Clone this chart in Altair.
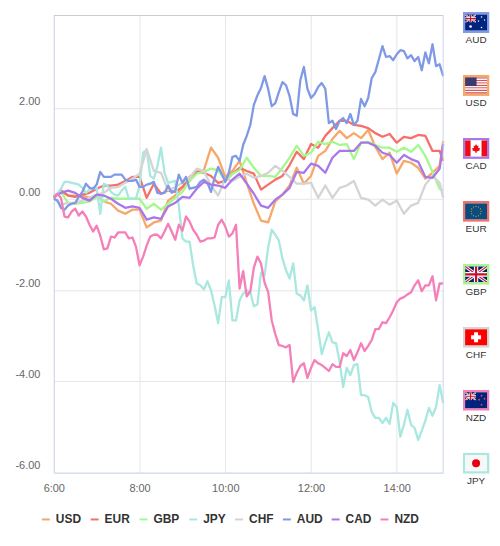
import base64
import math
import altair as alt
import pandas as pd

SERIES = ["USD", "EUR", "GBP", "JPY", "CHF", "AUD", "CAD", "NZD"]
COLORS = ["#f7a868", "#f5706a", "#a3f98b", "#a8e8df", "#d4d4d4", "#7f99e6", "#a978e8", "#f57fb8"]
FLAG_ORDER = ["AUD", "USD", "CAD", "EUR", "GBP", "CHF", "NZD", "JPY"]

usd = [.03,.19,.08,.08,.08,.03,.08,-.05,-.10,-.25,-.32,-.23,-.23,-.62,-.51,-.47,-.03,.08,.25,.40,.62,.64,1.13,.91,.49,.62,.84,.36,-.10,-.47,-.51,-.05,.10,.30,.69,.34,.51,.95,1.06,1.32,1.50,1.34,1.45,1.34,1.52,1.15,.88,1.02,.56,.84,.80,.69,.45,.58,.73,1.28]
eur = [.03,.19,.08,.05,.10,.14,.23,.30,.30,.32,.40,.49,.49,.03,.34,.12,.19,.16,.27,.49,.60,.58,.51,.36,.40,.56,.69,.62,.56,.21,.32,.43,.51,.75,1.04,.88,1.21,1.13,1.39,1.56,1.72,1.72,1.63,1.61,1.56,1.45,1.37,1.43,1.24,1.37,1.34,1.41,1.39,1.06,1.06,.84]
gbp = [.08,.16,-.08,-.10,-.08,-.05,.05,-.05,.03,.01,.01,.01,.01,-.21,-.10,-.23,-.10,.03,.16,.40,.56,.60,.67,.64,.40,.56,.64,.91,.69,.51,.51,.49,.69,.91,1.17,.95,1.02,1.26,1.21,1.26,1.19,1.21,.88,1.24,1.26,1.19,1.13,1.13,1.04,1.13,1.04,1.19,.95,.60,.23,.19]
chf = [.03,-.12,-.08,-.08,-.03,.03,.10,.14,.25,.27,.36,.45,.56,1.10,.62,.58,.19,.27,.36,.47,.67,.62,.30,.08,.45,.40,.49,.56,.47,.51,.58,.73,.62,.49,.34,.34,.36,.03,.30,.03,.25,.30,.40,.03,-.01,-.14,-.01,-.12,-.03,-.32,-.14,-.08,.32,.51,.36,.03]
cad = [.05,.14,.19,.14,.03,-.03,.10,.08,.01,-.10,-.19,-.16,-.19,-.45,-.40,-.43,-.16,-.08,.05,.03,.23,.38,.32,.30,.25,.43,.56,.34,.12,-.14,-.19,-.01,.10,.25,.60,.58,.78,.73,.58,.91,1.06,1.06,1.06,1.24,1.24,1.17,1.02,.97,.80,.97,.88,.82,.49,.47,.67,1.21]

aud = [.01,-.03,-.19,-.23,-.14,-.10,-.08,.05,.16,.34,.25,.23,.32,.60,.49,.49,.49,.54,.54,.54,.43,.40,.40,.43,.27,.27,.32,.34,.38,.14,.12,.14,.30,.14,.19,.54,.36,.49,.23,.25,.27,.38,.43,.36,.16,.47,.71,.56,.38,.58,.93,.95,.84,1.19,1.39,1.63,2.07,2.28,2.44,2.70,2.42,2.04,2.11,2.35,2.57,2.50,2.26,1.87,1.83,2.61,2.90,2.42,2.22,2.31,2.46,2.55,2.42,1.67,1.72,1.54,1.72,1.78,1.67,1.87,1.63,1.72,2.20,2.04,2.22,2.66,2.79,3.07,3.36,3.12,3.14,3.05,3.18,3.27,3.25,3.09,3.16,3.03,3.12,2.83,3.22,2.98,3.40,2.92,2.96,2.70]
nzd = [.05,.12,.03,-.38,-.40,-.27,-.21,-.36,-.27,-.38,-.56,-.71,-.58,-.80,-1.10,-1.08,-.82,-.84,-.73,-.73,-.73,-.86,-.84,-1.04,-1.45,-1.26,-1.02,-.82,-.78,-.78,-.86,-.71,-.54,-.71,-.89,-.56,-.69,-.38,-.49,-.67,-.78,-.93,-.91,-.86,-.86,-.84,-.56,-.45,-.60,-.82,-.75,-.56,-1.96,-1.58,-2.13,-2.02,-1.50,-1.26,-1.41,-1.83,-2.04,-2.66,-2.96,-3.20,-3.22,-3.25,-3.20,-4.01,-3.81,-3.66,-3.60,-3.92,-3.70,-3.53,-3.60,-3.64,-3.70,-3.77,-3.62,-3.68,-3.68,-3.38,-3.44,-3.31,-3.53,-3.36,-3.16,-3.33,-3.22,-3.09,-2.85,-2.85,-2.70,-2.72,-2.59,-2.44,-2.26,-2.18,-2.15,-2.09,-2.04,-1.89,-1.78,-2.02,-1.89,-1.89,-1.69,-2.22,-1.85,-1.85]
jpy = [.05,.12,.23,.38,.38,.36,.34,.32,.25,.14,.21,.23,.25,-.32,.34,.30,.16,.10,.08,.19,.27,.01,.01,.01,.30,1.02,1.08,.51,.45,.73,1.13,.58,.36,.38,.40,-.14,-.86,-.93,-.93,-1.45,-1.85,-1.89,-1.98,-1.80,-2.00,-2.33,-2.72,-2.15,-2.15,-1.78,-2.66,-2.66,-2.22,-2.07,-2.00,-2.04,-2.35,-2.31,-1.61,-1.67,-1.06,-.67,-.78,-.91,-1.30,-1.56,-1.74,-1.41,-2.07,-2.11,-2.22,-1.89,-2.44,-2.37,-2.87,-3.40,-3.14,-2.92,-3.14,-3.16,-3.57,-4.12,-3.70,-3.86,-3.64,-3.62,-4.30,-4.30,-4.34,-4.67,-4.80,-4.80,-4.91,-4.80,-4.93,-4.47,-4.56,-5.21,-4.95,-4.62,-4.95,-5.02,-5.28,-5.08,-4.86,-4.58,-4.75,-4.56,-4.08,-4.47]

VALUES = dict(USD=usd, EUR=eur, GBP=gbp, JPY=jpy, CHF=chf, AUD=aud, CAD=cad, NZD=nzd)

X_TICK_HOURS = [6, 8, 10, 12, 14]
Y_TICKS = [-6, -4, -2, 0, 2]
Y_TOP = 4.03
DAY = "2024-03-04"


def times_for(n):
    start = pd.Timestamp(f"{DAY} 06:00")
    if n > 60:
        return [start + pd.Timedelta(minutes=5 * i) for i in range(n)]
    t = [start + pd.Timedelta(minutes=10 * i) for i in range(n - 1)]
    return t + [start + pd.Timedelta(minutes=545)]


rows = []
for s in SERIES:
    vals = VALUES[s]
    for t, v in zip(times_for(len(vals)), vals):
        rows.append({"t": t.strftime("%Y-%m-%dT%H:%M:%S"), "v": v, "s": s})
df = pd.DataFrame(rows)

T0 = f"{DAY}T06:00:00"
T1 = f"{DAY}T15:05:00"
x_scale = alt.Scale(domain=[T0, T1], nice=False)
y_scale = alt.Scale(domain=[-6, Y_TOP], nice=False, zero=False)

lines = (
    alt.Chart(df)
    .mark_line(strokeWidth=2.3, interpolate="linear", strokeJoin="round")
    .encode(
        x=alt.X(
            "t:T",
            scale=x_scale,
            title=None,
            axis=alt.Axis(
                values=[alt.DateTime(year=2024, month=3, date=4, hours=h) for h in X_TICK_HOURS],
                format="%-H:%M",
                ticks=False,
                labelColor="#666666",
                labelFontSize=11,
                labelFont="Liberation Sans",
                labelPadding=10,
                labelFlush=False,
                labelOverlap=False,
                domainColor="#ccd6eb",
                domainWidth=1,
                gridColor="#e6e6e6",
                gridWidth=1,
            ),
        ),
        y=alt.Y(
            "v:Q",
            scale=y_scale,
            title=None,
            axis=alt.Axis(
                values=Y_TICKS,
                labelExpr="replace(format(datum.value, '.2f'), '\u2212', '-')",
                ticks=False,
                labelColor="#666666",
                labelFontSize=11,
                labelFont="Liberation Sans",
                labelPadding=14,
                labelOffset=-7,
                labelFlush=False,
                labelOverlap=False,
                domainColor="#ccd6eb",
                domainWidth=1,
                gridColor="#e6e6e6",
                gridWidth=1,
            ),
        ),
        color=alt.Color(
            "s:N",
            sort=SERIES,
            scale=alt.Scale(domain=SERIES, range=COLORS),
            legend=alt.Legend(
                title=None,
                orient="none",
                legendX=-14,
                legendY=500,
                direction="horizontal",
                columns=8,
                symbolType="stroke",
                symbolSize=64,
                symbolStrokeWidth=2,
                labelFont="Liberation Sans",
                labelFontSize=12,
                labelFontWeight="bold",
                labelColor="#333333",
                labelOffset=4,
                columnPadding=5,
                padding=0,
            ),
        ),
        detail="s:N",
        order=alt.Order("t:T"),
    )
)

top_rule = (
    alt.Chart(pd.DataFrame({"y": [Y_TOP]}))
    .mark_rule(color="#cccccc", strokeWidth=1)
    .encode(y=alt.Y("y:Q", scale=y_scale))
)
right_rule = (
    alt.Chart(pd.DataFrame({"x": [T1]}))
    .mark_rule(color="#ccd6eb", strokeWidth=1)
    .encode(x=alt.X("x:T", scale=x_scale))
)

main = alt.layer(lines, top_rule, right_rule).properties(width=391, height=459)


# --- flag badges ---------------------------------------------------------
def union(x, y, w, h):
    return (
        f'<svg x="{x}" y="{y}" width="{w}" height="{h}" viewBox="0 0 60 40" preserveAspectRatio="none">'
        '<rect width="60" height="40" fill="#012169"/>'
        '<path d="M0,0 L60,40 M60,0 L0,40" stroke="#fff" stroke-width="8"/>'
        '<path d="M0,0 L60,40 M60,0 L0,40" stroke="#c8102e" stroke-width="3"/>'
        '<path d="M30,0 V40 M0,20 H60" stroke="#fff" stroke-width="12"/>'
        '<path d="M30,0 V40 M0,20 H60" stroke="#c8102e" stroke-width="6"/>'
        "</svg>"
    )


def dot(cx, cy, r, fill):
    return f'<circle cx="{cx}" cy="{cy}" r="{r}" fill="{fill}"/>'


def flag_body(code):
    if code == "AUD":
        return (
            '<rect x="2.5" y="2.5" width="22" height="16" fill="#00247d"/>' + union(2.5, 2.5, 11, 8)
            + dot(8, 14.5, 1.3, "#fff") + dot(19, 5, .8, "#fff") + dot(19, 15.5, .8, "#fff")
            + dot(16, 9, .7, "#fff") + dot(22, 8, .7, "#fff")
        )
    if code == "NZD":
        return (
            '<rect x="2.5" y="2.5" width="22" height="16" fill="#00247d"/>' + union(2.5, 2.5, 11, 8)
            + dot(19, 6, .9, "#e5484d") + dot(19, 15, .9, "#e5484d")
            + dot(16.5, 10, .9, "#e5484d") + dot(22, 9, .9, "#e5484d")
        )
    if code == "USD":
        h = 16 / 13
        stripes = "".join(
            f'<rect x="2.5" y="{2.5 + i * h:.2f}" width="22" height="{h:.2f}" fill="{"#d2525c" if i % 2 == 0 else "#fff"}"/>'
            for i in range(13)
        )
        return stripes + '<rect x="2.5" y="2.5" width="11.5" height="8.6" fill="#3c3b6e"/>'
    if code == "CAD":
        return (
            '<rect x="2.5" y="2.5" width="22" height="16" fill="#fff"/>'
            '<rect x="2.5" y="2.5" width="5.5" height="16" fill="#f00a14"/>'
            '<rect x="19" y="2.5" width="5.5" height="16" fill="#f00a14"/>'
            '<path d="M13.5,6 L14.6,8 L16,7.5 L15.6,10 L17.5,10 L16.8,11.5 L17.5,12.3 L14.2,13.6 L14,15 L13,15 L12.8,13.6 L9.5,12.3 '
            'L10.2,11.5 L9.5,10 L11.4,10 L11,7.5 L12.4,8 Z" fill="#f00a14"/>'
        )
    if code == "EUR":
        stars = "".join(
            dot(round(13.5 + 5 * math.cos(a * math.pi / 6), 2), round(10.5 + 5 * math.sin(a * math.pi / 6), 2), .55, "#d9b93a")
            for a in range(12)
        )
        return '<rect x="2.5" y="2.5" width="22" height="16" fill="#0c4b7e"/>' + stars
    if code == "GBP":
        return union(2.5, 2.5, 22, 16)
    if code == "CHF":
        return (
            '<rect x="2.5" y="2.5" width="22" height="16" fill="#f00"/>'
            '<rect x="11.5" y="5.5" width="4" height="10" fill="#fff"/>'
            '<rect x="8.5" y="8.5" width="10" height="4" fill="#fff"/>'
        )
    return '<rect x="2.5" y="2.5" width="22" height="16" fill="#f7f7f7"/>' + dot(13.5, 10.5, 4, "#e60012")


def flag_uri(code):
    color = COLORS[SERIES.index(code)]
    svg = (
        '<svg xmlns="http://www.w3.org/2000/svg" width="27" height="21" viewBox="0 0 27 21">'
        f'<rect x="1.25" y="1.25" width="24.5" height="18.5" fill="#fff" stroke="{color}" stroke-width="2.5"/>'
        + flag_body(code) + "</svg>"
    )
    return "data:image/svg+xml;base64," + base64.b64encode(svg.encode()).decode()


flags_df = pd.DataFrame({"code": FLAG_ORDER, "img": [flag_uri(c) for c in FLAG_ORDER]})
flag_y = alt.Y(
    "code:N",
    sort=FLAG_ORDER,
    scale=alt.Scale(type="point", domain=FLAG_ORDER, range=[7, 449.5], padding=0),
    axis=None,
)
badges = alt.Chart(flags_df).mark_image(width=27, height=21).encode(
    x=alt.value(31), y=flag_y, url="img:N"
)
badge_text = alt.Chart(flags_df).mark_text(
    dy=18, font="Liberation Sans", fontSize=10, color="#333333", align="center"
).encode(x=alt.value(31), y=flag_y, text="code:N")
side = alt.layer(badges, badge_text).properties(width=47, height=459)

chart = (
    alt.hconcat(main, side, spacing=0)
    .resolve_scale(color="independent", x="independent", y="independent")
    .properties(padding={"left": 6, "top": 2.5, "right": 0, "bottom": 0}, background="#ffffff")
    .configure_view(stroke=None)
)

chart.save("out.html", embed_options={"renderer": "svg", "actions": False})
